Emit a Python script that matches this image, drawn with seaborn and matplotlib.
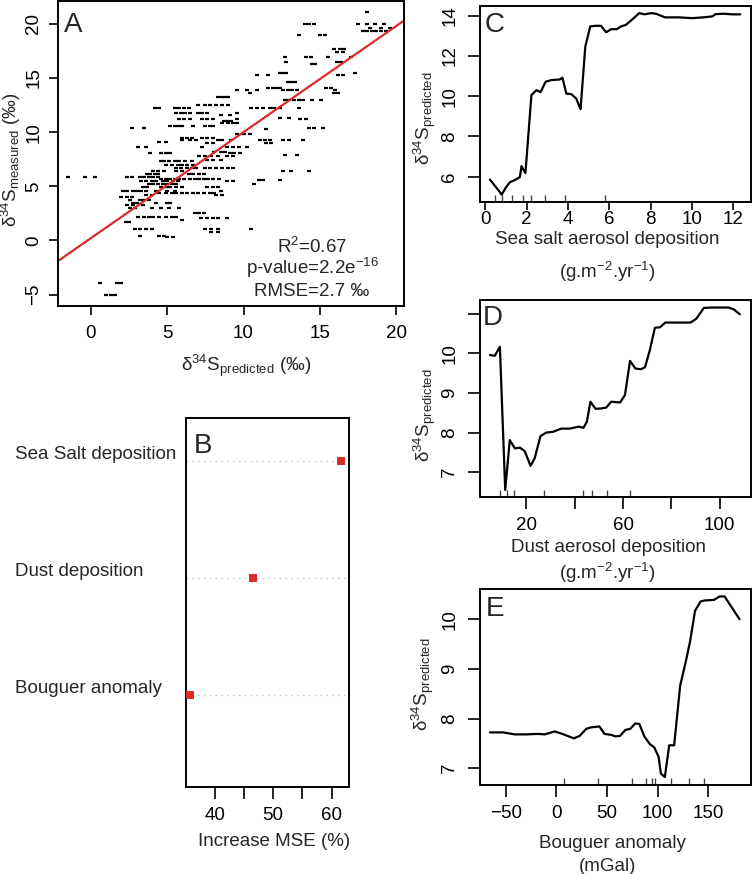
import numpy as np
import pandas as pd
import matplotlib
matplotlib.use("Agg")
import matplotlib.pyplot as plt
import seaborn as sns
from matplotlib.transforms import blended_transform_factory, offset_copy

# ---------------- data ----------------
# Panel A: measured value levels and the predicted values sharing each level
meas_levels = [21.1, 20.0, 19.6, 19.3, 19.0, 17.7, 17.4, 16.9, 16.5, 16.3, 15.5, 15.25, 14.6,
               14.05, 13.85, 13.6, 13.2, 13.0, 12.5, 12.25, 11.8, 11.6, 11.3, 11.2, 11.0, 10.8,
               10.55, 10.4, 10.25, 9.8, 9.5, 9.3, 9.1, 8.95, 8.6, 8.2, 8.1, 7.9, 7.8, 7.4, 7.3,
               7.0, 6.7, 6.4, 6.1, 5.85, 5.7, 5.5, 5.6, 5.2, 4.9, 4.6, 4.4, 4.2, 4.05, 3.75, 3.5,
               3.3, 2.95, 2.5, 2.2, 2.05, 1.85, 1.7, 1.1, 0.75, 0.45, 0.3, -3.9, -5.0]
pred_groups = [
    [18.1],
    [14.0, 14.3, 14.6, 17.5, 18.1, 18.6, 19.2],
    [18.3, 19.0, 19.6],
    [17.8, 18.1, 18.4, 18.7, 19.0, 19.3],
    [13.6, 15.0, 15.3],
    [15.9, 16.3, 16.6],
    [16.1, 16.5],
    [12.7, 14.1, 14.4, 15.5, 17.0],
    [12.8, 16.1, 16.4],
    [14.5, 14.7],
    [12.4, 12.6, 12.8, 17.3],
    [10.9, 11.6, 16.2, 16.5],
    [12.9, 13.1, 13.4],
    [11.6, 11.9, 12.2, 12.4, 15.4, 15.7],
    [9.6, 10.2, 10.9, 12.6, 12.9, 13.2, 13.5, 16.0],
    [10.4, 15.9, 16.2],
    [8.3, 8.6, 8.8, 9.0],
    [12.7, 13.0, 13.3, 13.6, 13.9, 14.5, 15.1],
    [7.0, 7.5, 7.8, 8.2, 8.6, 9.0],
    [4.2, 4.5, 5.5, 5.8, 6.1, 6.4, 10.5, 10.9, 11.3, 11.7, 12.0, 12.4, 13.6],
    [5.6, 5.9, 6.2, 6.5, 7.0, 7.3, 7.6, 9.6],
    [8.5, 9.1],
    [12.4, 13.0],
    [5.8, 6.1, 6.5, 7.3, 7.6, 8.0, 9.6, 13.7, 14.1],
    [8.7, 8.9, 9.2],
    [8.6, 9.0, 9.3, 9.6],
    [5.2, 5.5, 5.8, 6.0, 6.7, 7.5, 7.8, 8.0],
    [2.7, 3.5, 14.3, 14.6, 15.2],
    [11.5],
    [9.6, 10.0, 10.4],
    [6.0, 6.3, 6.6, 7.3, 7.6, 8.0],
    [6.0, 6.5, 6.9, 8.3, 8.6, 9.2, 11.1, 11.4, 11.7, 12.6, 13.0, 13.9],
    [4.5, 4.9],
    [7.6, 8.0, 11.5, 11.8],
    [3.1, 3.6, 7.3, 8.9, 9.3, 9.7, 10.2],
    [8.1, 8.5, 8.8],
    [3.9, 4.6, 4.9, 5.2, 9.1, 9.4, 9.8],
    [12.7, 13.5],
    [7.1, 7.5, 7.9, 8.3, 8.9, 9.3],
    [7.6, 8.0, 8.5],
    [4.6, 4.8, 5.1, 5.5, 5.8, 6.2, 6.6],
    [4.9, 5.3, 5.7, 6.0, 6.3, 6.7],
    [5.6, 5.9, 6.3, 6.6, 6.9, 7.5, 7.8, 8.2, 8.6, 9.0, 9.3],
    [4.1, 4.4, 4.8, 5.6, 6.0, 12.6, 13.1, 14.3],
    [3.7, 3.9, 4.2, 4.4, 6.4, 6.7, 7.1, 7.4],
    [-1.5, -0.4, 0.3, 2.4, 2.7, 3.2, 3.5, 3.8, 4.1, 4.4],
    [4.6, 4.9, 5.2, 5.5, 5.8, 6.1, 6.5, 6.8, 7.1, 7.4, 7.7, 8.0, 8.4],
    [3.3, 3.6, 4.0, 4.3, 4.7, 5.0, 5.4, 5.7, 8.9, 9.3],
    [11.0, 11.3, 12.4],
    [3.8, 4.1, 4.4, 4.7, 5.0, 5.3, 5.6, 10.7],
    [3.4, 3.7, 4.6, 4.9, 5.2, 5.6, 6.0, 7.6, 8.0, 8.3],
    [2.1, 2.4, 2.8, 3.0, 3.3, 3.6, 4.3, 5.0, 5.5, 8.5],
    [4.5, 4.9, 5.3, 5.6, 6.0, 6.3, 6.7, 7.0, 7.4, 7.8, 8.1],
    [3.6, 4.0, 8.2, 8.6],
    [2.0, 2.4, 2.7],
    [2.6, 3.2, 3.5, 3.8],
    [2.8, 3.0, 4.3, 5.0, 5.2],
    [2.4, 2.8, 3.4],
    [2.6, 2.9, 4.0, 4.6, 5.1, 5.8],
    [6.8, 7.1, 7.4],
    [3.1, 3.5, 3.8, 4.1, 4.5, 4.9, 5.3, 5.6],
    [7.2, 7.6, 8.0, 8.3, 8.9],
    [6.0],
    [2.3, 2.5],
    [2.9, 3.2, 3.6, 4.0, 7.5, 7.9, 8.3, 10.5],
    [7.9, 8.3],
    [3.2, 4.5, 4.8],
    [5.0, 5.4],
    [0.6, 1.7, 2.0],
    [1.0, 1.3, 1.6],
]
line_slope = 0.98
line_intercept = 0.2
stats_lines = ["R$^{\\mathregular{2}}$=0.67", "p-value=2.2e$^{\\mathregular{-16}}$", "RMSE=2.7 \u2030"]

# Panel B: variable importance
imp_vars = ["Sea Salt deposition", "Dust deposition", "Bouguer anomaly"]
imp_vals = [61.6, 46.6, 35.7]
imp_pos = [3, 2, 1]

# Panel C: sea salt partial dependence
C_x = [0.22, 0.71, 0.79, 1.0, 1.19, 1.43, 1.67, 1.75, 1.94, 2.23, 2.47, 2.67, 2.92, 3.2, 3.6,
       3.73, 3.92, 4.16, 4.4, 4.61, 4.84, 5.08, 5.33, 5.6, 5.85, 6.09, 6.36, 6.57, 6.81, 7.13,
       7.45, 7.7, 8.02, 8.26, 8.7, 9.38, 10.02, 10.67, 10.99, 11.15, 11.55, 11.95, 12.35]
C_y = [5.85, 5.22, 5.1, 5.47, 5.72, 5.83, 5.97, 6.52, 6.17, 10.05, 10.3, 10.2, 10.72, 10.8, 10.83,
       10.92, 10.13, 10.1, 9.88, 9.35, 12.47, 13.47, 13.5, 13.5, 13.18, 13.33, 13.33, 13.47, 13.55, 13.83,
       14.13, 14.07, 14.13, 14.1, 13.92, 13.92, 13.88, 13.93, 13.97, 14.08, 14.1, 14.07, 14.07]
C_rug = [0.47, 0.79, 1.27, 1.83, 2.23, 2.91, 3.84, 5.77]

# Panel D: dust partial dependence
D_x = [4.9, 6.9, 9.0, 11.2, 13.1, 15.2, 17.3, 19.3, 21.7, 23.4, 25.8, 28.2, 31.0, 34.4, 37.9,
       41.7, 43.6, 45.0, 46.5, 48.6, 50.9, 53.0, 55.1, 58.8, 60.8, 62.9, 65.1, 67.4, 69.1, 71.1,
       73.2, 75.3, 77.5, 82.5, 88.0, 90.4, 93.5, 97.0, 103.8, 105.9, 108.4]
D_y = [9.96, 9.94, 10.17, 6.55, 7.81, 7.6, 7.62, 7.53, 7.16, 7.35, 7.91, 8.0, 8.02, 8.1, 8.1,
       8.15, 8.12, 8.27, 8.78, 8.6, 8.61, 8.63, 8.78, 8.76, 8.95, 9.81, 9.62, 9.6, 9.65, 10.08,
       10.65, 10.66, 10.78, 10.78, 10.78, 10.88, 11.15, 11.16, 11.16, 11.11, 10.99]
D_rug = [9.0, 12.0, 14.9, 27.3, 43.4, 47.2, 53.4, 62.9]

# Panel E: Bouguer anomaly partial dependence
E_x = [-65.6, -52.5, -41, -29.5, -18, -11.5, -1.6, 5.9, 17.4, 23, 29.5, 33.8, 42.6, 47.5, 54.1,
       58.4, 63, 68.2, 72.8, 78, 82, 86.9, 92.5, 96.7, 101, 103.3, 107.2, 111.5, 116.4, 122.3,
       127.9, 132.1, 137, 142.6, 146.9, 155.7, 161.3, 166.2, 181]
E_y = [7.72, 7.72, 7.68, 7.68, 7.69, 7.68, 7.74, 7.69, 7.6, 7.65, 7.79, 7.82, 7.84, 7.69, 7.67,
       7.64, 7.65, 7.77, 7.79, 7.9, 7.89, 7.64, 7.48, 7.42, 7.23, 6.89, 6.82, 7.46, 7.46, 8.66,
       9.15, 9.55, 10.17, 10.36, 10.38, 10.39, 10.46, 10.46, 10.0]
E_rug = [7.5, 41, 74.4, 88.5, 94.4, 97.7, 113.4, 131.1, 145.9]

# ---------------- style ----------------
sns.set_theme(style="ticks")
plt.rcParams["font.family"] = ["Liberation Sans", "DejaVu Sans"]
plt.rcParams["mathtext.fontset"] = "custom"
plt.rcParams["mathtext.rm"] = "Liberation Sans"
plt.rcParams["mathtext.it"] = "Liberation Sans:italic"
plt.rcParams["mathtext.bf"] = "Liberation Sans:bold"
plt.rcParams["axes.unicode_minus"] = True

RED = "#dd2a2a"
FS = 13.5
W, H = 752, 874
fig = plt.figure(figsize=(W / 100, H / 100), dpi=100)


def px_axes(l, t, r, b):
    return fig.add_axes([l / W, 1 - b / H, (r - l) / W, (b - t) / H])


def ftext(x, y, s, **kw):
    kw.setdefault("fontsize", FS)
    return fig.text(x / W, 1 - y / H, s, **kw)


def style(ax, xlen=12 * 0.72, ylen=12.5 * 0.72, xpad=5.8, ypad=6.7, rot_y=True):
    for sp in ax.spines.values():
        sp.set_visible(True)
        sp.set_linewidth(1.4)
        sp.set_color("black")
    ax.tick_params(axis="x", direction="out", length=xlen, width=1.2, pad=xpad,
                   labelsize=FS, colors="black")
    ax.tick_params(axis="y", direction="out", length=ylen, width=1.2, pad=ypad,
                   labelsize=FS, colors="black")
    if rot_y:
        for lab in ax.get_yticklabels():
            lab.set_rotation(90)
            lab.set_va("center")
    ax.set_xlabel("")
    ax.set_ylabel("")
    ax.grid(False)


# ---------------- Panel A ----------------
dfA = pd.DataFrame({"meas": meas_levels, "pred": pred_groups}).explode("pred")
dfA["pred"] = dfA["pred"].astype(float)
axA = px_axes(58.3, 1, 404, 306)
sns.scatterplot(data=dfA, x="pred", y="meas", marker="_", color="black", s=7,
                linewidth=1.6, ax=axA, legend=False)
axA.axline((0, line_intercept), slope=line_slope, color=RED, lw=1.6)
axA.set_xlim(-2.12, 20.5)
axA.set_ylim(-6.05, 22.1)
axA.set_xticks([0, 5, 10, 15, 20])
axA.set_yticks([-5, 0, 5, 10, 15, 20])
style(axA, xlen=6.5, ylen=6.5, xpad=7.2, ypad=5.0)
for s, yb in zip(stats_lines, [253, 274, 296.5]):
    ftext(312, yb, s, ha="center", va="baseline")
ftext(64, 32, "A", fontsize=20, ha="left", va="baseline")
ftext(11, 160, "\u03b4$^{\\mathregular{34}}$S$_{\\mathregular{measured}}$ (\u2030)", rotation=90,
      ha="center", va="center")
ftext(246, 366, "\u03b4$^{\\mathregular{34}}$S$_{\\mathregular{predicted}}$ (\u2030)",
      ha="center", va="center")

# ---------------- Panel B ----------------
axB = px_axes(185.7, 417.7, 349, 787.3)
axB.set_xlim(35.0, 63.0)
axB.set_ylim(0.21, 3.37)
for p in imp_pos:
    axB.axhline(p, color="#c4c4c4", lw=1.0, ls=(0, (1, 3.2)), zorder=1)
dfB = pd.DataFrame({"var": imp_vars, "val": imp_vals, "pos": imp_pos})
sns.scatterplot(data=dfB, x="val", y="pos", marker="s", color=RED, s=34, linewidth=0,
                ax=axB, legend=False, zorder=3)
axB.set_xticks([40, 45, 50, 55, 60], ["40", "", "50", "", "60"])
axB.set_yticks([])
style(axB, xlen=8.5, xpad=5.5, rot_y=False)
trB = offset_copy(blended_transform_factory(fig.transFigure, axB.transData), fig=fig,
                  x=0, y=6.5, units="dots")
for v, p in zip(imp_vars, imp_pos):
    axB.text(15 / W, p, v, transform=trB, ha="left", va="center", fontsize=FS)
ftext(194, 453, "B", fontsize=20, ha="left", va="baseline")
ftext(274.5, 841.7, "Increase MSE (%)", ha="center", va="center")

# ---------------- Panel C ----------------
axC = px_axes(480, 5.7, 750.5, 201.7)
sns.lineplot(x=C_x, y=C_y, color="black", lw=1.6, ax=axC)
sns.rugplot(x=C_rug, height=0.036, color="#444444", lw=1.0, ax=axC)
axC.set_xlim(-0.26, 12.84)
axC.set_ylim(4.75, 14.5)
axC.set_xticks([0, 2, 4, 6, 8, 10, 12])
axC.set_yticks([6, 8, 10, 12, 14])
style(axC, xlen=6.0, xpad=0.8)
ftext(485, 32, "C", fontsize=20, ha="left", va="baseline")
ftext(425, 118.5, "\u03b4$^{\\mathregular{34}}$S$_{\\mathregular{predicted}}$", rotation=90,
      ha="center", va="center")
ftext(607, 240, "Sea salt aerosol deposition", ha="center", va="center")
ftext(607.5, 271.7, "(g.m$^{\\mathregular{-2}}$.yr$^{\\mathregular{-1}}$)", ha="center", va="center")

# ---------------- Panel D ----------------
axD = px_axes(480, 300, 750.5, 496.7)
sns.lineplot(x=D_x, y=D_y, color="black", lw=1.6, ax=axD)
sns.rugplot(x=D_rug, height=0.036, color="#444444", lw=1.0, ax=axD)
axD.set_xlim(0.76, 112.8)
axD.set_ylim(6.38, 11.35)
axD.set_xticks([20, 40, 60, 80, 100], ["20", "", "60", "", "100"])
axD.set_yticks([7, 8, 9, 10, 11], ["7", "8", "9", "10", ""])
style(axD)
ftext(483, 325, "D", fontsize=20, ha="left", va="baseline")
ftext(425, 415, "\u03b4$^{\\mathregular{34}}$S$_{\\mathregular{predicted}}$", rotation=90,
      ha="center", va="center")
ftext(608.5, 548, "Dust aerosol deposition", ha="center", va="center")
ftext(607.5, 573, "(g.m$^{\\mathregular{-2}}$.yr$^{\\mathregular{-1}}$)", ha="center", va="center")

# ---------------- Panel E ----------------
axE = px_axes(480, 589, 750.5, 785)
sns.lineplot(x=E_x, y=E_y, color="black", lw=1.6, ax=axE)
sns.rugplot(x=E_rug, height=0.036, color="#444444", lw=1.0, ax=axE)
axE.set_xlim(-75.4, 191.8)
axE.set_ylim(6.66, 10.61)
axE.set_xticks([-50, 0, 50, 100, 150])
axE.set_yticks([7, 8, 9, 10])
style(axE)
ftext(486, 616, "E", fontsize=20, ha="left", va="baseline")
ftext(422.5, 684.5, "\u03b4$^{\\mathregular{34}}$S$_{\\mathregular{predicted}}$", rotation=90,
      ha="center", va="center")
ftext(612, 843, "Bouguer anomaly", ha="center", va="center")
ftext(608, 866.7, "(mGal)", ha="center", va="center")

fig.savefig("out.png", dpi=100)
